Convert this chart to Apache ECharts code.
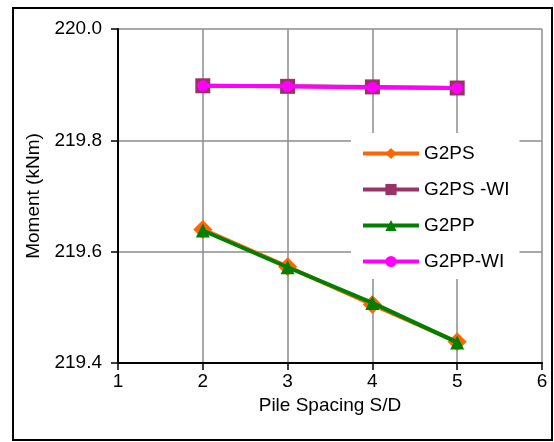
<!DOCTYPE html>
<html><head><meta charset="utf-8">
<script src="https://cdn.jsdelivr.net/npm/echarts@6/dist/echarts.min.js"></script>
<style>html,body{margin:0;padding:0;background:#fff}#c{width:554px;height:442px}</style>
</head><body><div id="c"></div>
<script>
const spacing = [2, 3, 4, 5];
const g2ps   = [219.640, 219.573, 219.505, 219.438];
const g2psWI = [219.898, 219.897, 219.896, 219.894];
const g2pp   = [219.638, 219.572, 219.508, 219.437];
const g2ppWI = [219.898, 219.897, 219.895, 219.894];
const seriesNames = ['G2PS', 'G2PS -WI', 'G2PP', 'G2PP-WI'];
const yTicks = [219.4, 219.6, 219.8, 220.0];

const font = 'Liberation Sans, Arial, sans-serif';
const chart = echarts.init(document.getElementById('c'));
function pts(v){ return spacing.map((x,i)=>[x, v[i]]); }
const defs = [
  {d: g2ps, c:'#ff6600', s:'diamond', z:3, size:19},
  {d: g2psWI, c:'#993366', s:'rect', z:4, size:15},
  {d: g2pp, c:'#008000', s:'triangle', z:5, size:14},
  {d: g2ppWI, c:'#ff00ff', s:'circle', z:6, size:11}
];
chart.setOption({
  animation:false,
  backgroundColor:'#fff',
  grid:{left:118, top:29, width:424, height:334},
  graphic:[{type:'rect', shape:{x:13, y:8, width:539, height:432}, style:{fill:'none', stroke:'#000', lineWidth:2}, z:100}],
  xAxis:{type:'value', min:1, max:6, interval:1,
    name:'Pile Spacing S/D', nameLocation:'middle', nameGap:33,
    nameTextStyle:{fontFamily:font, fontSize:19, color:'#000'},
    axisLine:{lineStyle:{color:'#000', width:2}},
    axisTick:{show:true, length:7, lineStyle:{color:'#000', width:1.5}},
    axisLabel:{fontFamily:font, fontSize:19, color:'#000', margin:9},
    splitLine:{show:true, lineStyle:{color:'#8c8c8c', width:1.5}}
  },
  yAxis:{type:'value', min:219.4, max:220.0, interval:0.2,
    name:'Moment (kNm)', nameLocation:'middle', nameGap:72,
    nameTextStyle:{fontFamily:font, fontSize:19, color:'#000'},
    axisLine:{show:true, lineStyle:{color:'#000', width:2}},
    axisTick:{show:true, length:7, lineStyle:{color:'#000', width:1.5}},
    axisLabel:{fontFamily:font, fontSize:19, color:'#000', margin:16, formatter:v=>yTicks.reduce((a,b)=>Math.abs(b-v)<Math.abs(a-v)?b:a).toFixed(1)},
    splitLine:{show:true, lineStyle:{color:'#8c8c8c', width:1.5}}
  },
  legend:{orient:'vertical', left:351, top:133, backgroundColor:'#fff',
    padding:[11,10,8,10], itemGap:17, itemWidth:56, itemHeight:14,
    lineStyle:{width:4},
    textStyle:{fontFamily:font, fontSize:19, color:'#000'},
    data:seriesNames
  },
  series: defs.map((o,i)=>({
    name: seriesNames[i], type:'line', data: pts(o.d), symbol:o.s, symbolSize:o.size,
    z:o.z, lineStyle:{color:o.c, width:4}, itemStyle:{color:o.c, borderWidth:0}
  }))
});
</script></body></html>
